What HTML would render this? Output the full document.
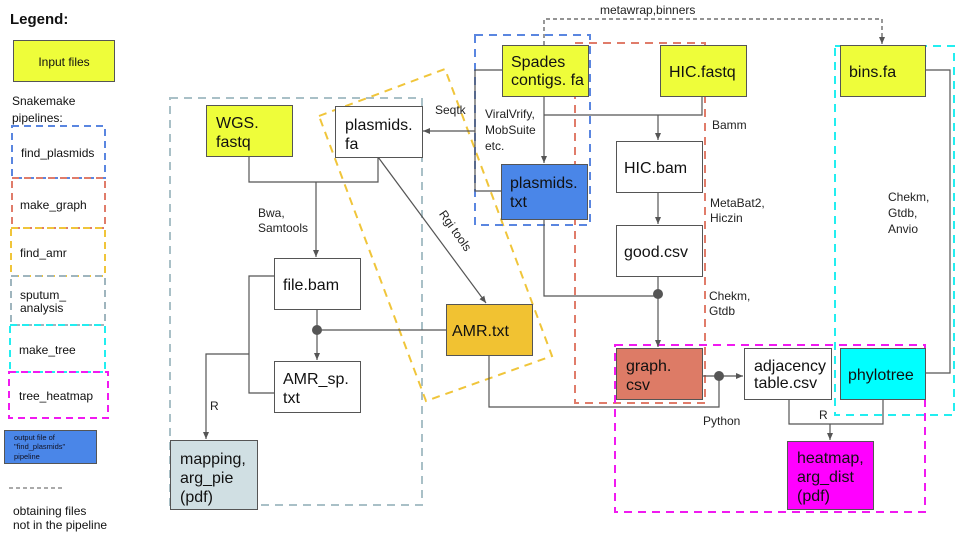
<!DOCTYPE html>
<html><head><meta charset="utf-8"><style>
html,body{margin:0;padding:0;background:#fff;}
svg{display:block;font-family:"Liberation Sans",Arial,sans-serif;}
.b{font-size:16px;fill:#111;}
.l{font-size:12px;fill:#222;}
.s{font-size:12px;fill:#111;}
</style></head><body>
<svg width="960" height="540" viewBox="0 0 960 540" xmlns="http://www.w3.org/2000/svg">
<defs>
<marker id="a" markerWidth="8" markerHeight="8" refX="7" refY="4" orient="auto" markerUnits="userSpaceOnUse">
<path d="M0,1 L7,4 L0,7 z" fill="#555"/></marker>
</defs>
<!-- Legend -->
<text x="10" y="24" font-size="15" font-weight="bold" fill="#111">Legend:</text>
<rect x="13.5" y="40.5" width="101" height="41" fill="#eefd3a" stroke="#555"/>
<text x="64" y="66" class="s" text-anchor="middle" font-size="13">Input files</text>
<text x="12" y="105" class="s" font-size="12.5">Snakemake</text>
<text x="12" y="122" class="s" font-size="12.5">pipelines:</text>
<g fill="none" stroke-width="2" stroke-dasharray="7,5">
<rect x="12" y="126" width="93" height="52" stroke="#5a86e0"/>
<rect x="12" y="178" width="93" height="50" stroke="#e07c6a"/>
<rect x="11" y="228" width="94" height="48" stroke="#f0c53a"/>
<rect x="11" y="276" width="94" height="49" stroke="#9fb5be"/>
<rect x="10" y="325" width="95" height="47" stroke="#22eef0"/>
<rect x="9" y="372" width="99" height="46" stroke="#f01af0"/>
</g>
<text x="21" y="157" class="s" font-size="11.5">find_plasmids</text>
<text x="20" y="209" class="s" font-size="11.5">make_graph</text>
<text x="20" y="257" class="s" font-size="11.5">find_amr</text>
<text x="20" y="299" class="s" font-size="11.5">sputum_</text>
<text x="20" y="312" class="s" font-size="11.5">analysis</text>
<text x="19" y="354" class="s" font-size="11.5">make_tree</text>
<text x="19" y="400" class="s" font-size="11.5">tree_heatmap</text>
<rect x="4.5" y="430.5" width="92" height="33" fill="#4a86e8" stroke="#555"/>
<text x="14" y="440" font-size="7.5" fill="#112">output file of</text>
<text x="14" y="449" font-size="7.5" fill="#112">"find_plasmids"</text>
<text x="14" y="459" font-size="7.5" fill="#112">pipeline</text>
<line x1="9" y1="488" x2="63" y2="488" stroke="#555" stroke-dasharray="4,3"/>
<text x="13" y="515" class="s" font-size="11.5">obtaining files</text>
<text x="13" y="529" class="s" font-size="11.5">not in the pipeline</text>

<!-- dashed pipeline regions -->
<g fill="none" stroke-width="2" stroke-dasharray="8,6">
<rect x="170" y="98" width="252" height="137" stroke="#a9c0c7" style="display:none"/>
<path d="M170,98 H422 V505 H170 Z" stroke="#a9c0c7"/>
<path d="M319,116 L445,69 L552,356 L426,401 Z" stroke="#f0c53a"/>
<rect x="475" y="35" width="115" height="190" stroke="#5a86e0"/>
<rect x="575" y="43" width="130" height="360" stroke="#e07c6a"/>
<rect x="835" y="46" width="119" height="369" stroke="#22eef0"/>
<rect x="615" y="345" width="310" height="167" stroke="#f01af0"/>
</g>

<!-- connectors -->
<g fill="none" stroke="#555" stroke-width="1.2">
<path d="M249,156 V182 H378 V157"/>
<path d="M316,182 V257" marker-end="url(#a)"/>
<path d="M378,157 L486,303" marker-end="url(#a)"/>
<path d="M274,276 H249 V393 H274"/>
<path d="M249,354 H206 V439" marker-end="url(#a)"/>
<path d="M317,309 V360" marker-end="url(#a)"/>
<path d="M317,330 H446"/>
<path d="M502,70 H475 V191 H501"/>
<path d="M475,131 H423" marker-end="url(#a)"/>
<path d="M544,96 V163" marker-end="url(#a)"/>
<path d="M702,96 V115 H544"/>
<path d="M658,115 V140" marker-end="url(#a)"/>
<path d="M658,193 V224" marker-end="url(#a)"/>
<path d="M658,276 V347" marker-end="url(#a)"/>
<path d="M544,219 V296 H658"/>
<path d="M702,376 H743" marker-end="url(#a)"/>
<path d="M489,355 V407 H719 V376"/>
<path d="M925,70 H950 V373 H925"/>
<path d="M789,399 V424 H883 V399"/>
<path d="M830,424 V440" marker-end="url(#a)"/>
<path d="M544,45 V19 H882 V44" stroke-dasharray="4,3" marker-end="url(#a)"/>
</g>
<circle cx="317" cy="330" r="5" fill="#555"/>
<circle cx="658" cy="294" r="5" fill="#555"/>
<circle cx="719" cy="376" r="5" fill="#555"/>

<!-- nodes -->
<g stroke="#555" stroke-width="1">
<rect x="206.5" y="105.5" width="86" height="51" fill="#eefd3a"/>
<rect x="335.5" y="106.5" width="87" height="51" fill="#fff"/>
<rect x="274.5" y="258.5" width="86" height="51" fill="#fff"/>
<rect x="274.5" y="361.5" width="86" height="51" fill="#fff"/>
<rect x="170.5" y="440.5" width="87" height="69" fill="#d0dfe3"/>
<rect x="446.5" y="304.5" width="86" height="51" fill="#f1c232"/>
<rect x="502.5" y="45.5" width="86" height="51" fill="#eefd3a"/>
<rect x="501.5" y="164.5" width="86" height="55" fill="#4a86e8"/>
<rect x="660.5" y="45.5" width="86" height="51" fill="#eefd3a"/>
<rect x="616.5" y="141.5" width="86" height="51" fill="#fff"/>
<rect x="616.5" y="225.5" width="86" height="51" fill="#fff"/>
<rect x="616.5" y="348.5" width="86" height="51" fill="#dd7b66"/>
<rect x="744.5" y="348.5" width="87" height="51" fill="#fff"/>
<rect x="840.5" y="348.5" width="85" height="51" fill="#00ffff"/>
<rect x="840.5" y="45.5" width="85" height="51" fill="#eefd3a"/>
<rect x="787.5" y="441.5" width="86" height="68" fill="#ff00ff"/>
</g>
<text x="216" y="128" class="b">WGS.</text><text x="216" y="147" class="b">fastq</text>
<text x="345" y="130" class="b">plasmids.</text><text x="345" y="149" class="b">fa</text>
<text x="283" y="290" class="b">file.bam</text>
<text x="283" y="384" class="b">AMR_sp.</text><text x="283" y="403" class="b">txt</text>
<text x="180" y="464" class="b">mapping,</text><text x="180" y="483" class="b">arg_pie</text><text x="180" y="502" class="b">(pdf)</text>
<text x="452" y="336" class="b">AMR.txt</text>
<text x="511" y="67" class="b" font-size="15">Spades</text><text x="511" y="85" class="b" font-size="15">contigs. fa</text>
<text x="510" y="188" class="b" fill="#0b1a3a">plasmids.</text><text x="510" y="207" class="b" fill="#0b1a3a">txt</text>
<text x="669" y="77" class="b">HIC.fastq</text>
<text x="624" y="173" class="b">HIC.bam</text>
<text x="624" y="257" class="b">good.csv</text>
<text x="626" y="371" class="b" fill="#201010">graph.</text><text x="626" y="390" class="b" fill="#201010">csv</text>
<text x="754" y="371" class="b" font-size="13.5">adjacency</text><text x="754" y="388" class="b" font-size="13.5">table.csv</text>
<text x="848" y="380" class="b">phylotree</text>
<text x="849" y="77" class="b">bins.fa</text>
<text x="797" y="463" class="b" fill="#300030">heatmap,</text><text x="797" y="482" class="b" fill="#300030">arg_dist</text><text x="797" y="501" class="b" fill="#300030">(pdf)</text>

<!-- labels -->
<text x="258" y="217" class="l">Bwa,</text><text x="258" y="232" class="l">Samtools</text>
<text x="210" y="410" class="l">R</text>
<text x="435" y="114" class="l">Seqtk</text>
<text x="452" y="233" class="l" text-anchor="middle" transform="rotate(55 452 233)">Rgi tools</text>
<text x="485" y="118" class="l">ViralVrify,</text><text x="485" y="134" class="l">MobSuite</text><text x="485" y="150" class="l">etc.</text>
<text x="712" y="129" class="l">Bamm</text>
<text x="710" y="207" class="l">MetaBat2,</text><text x="710" y="222" class="l">Hiczin</text>
<text x="709" y="300" class="l">Chekm,</text><text x="709" y="315" class="l">Gtdb</text>
<text x="703" y="425" class="l">Python</text>
<text x="819" y="419" class="l">R</text>
<text x="888" y="201" class="l">Chekm,</text><text x="888" y="217" class="l">Gtdb,</text><text x="888" y="233" class="l">Anvio</text>
<text x="600" y="14" class="l">metawrap,binners</text>
</svg>
</body></html>
